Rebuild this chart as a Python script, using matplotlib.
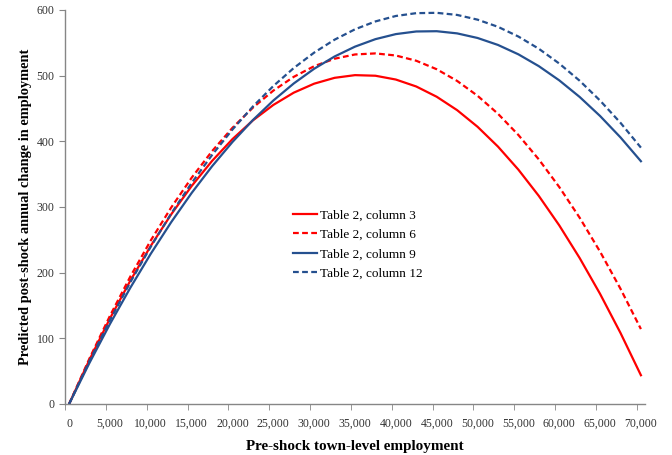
import numpy as np
import matplotlib
matplotlib.use("Agg")
import matplotlib.pyplot as plt

# Pre-shock town-level employment (read every 2,500)
employment = list(range(0, 70001, 2500))

# Predicted post-shock annual change in employment
col3 = [0, 67.5, 130.2, 187.9, 240.8, 288.8, 331.9, 370.1, 403.4, 431.9,
        455.4, 474.1, 487.8, 496.7, 500.8, 499.9, 494.1, 483.5, 467.9, 447.5,
        422.2, 392.0, 356.9, 316.9, 272.1, 222.3, 167.7, 108.2, 43.8]
col6 = [0, 69.5, 134.2, 194.1, 249.1, 299.2, 344.5, 385.0, 420.6, 451.3,
        477.2, 498.2, 514.4, 525.8, 532.3, 533.9, 530.7, 522.7, 509.8, 492.0,
        469.4, 442.0, 409.7, 372.5, 330.5, 283.7, 232.0, 175.5, 114.1]
col9 = [0, 62.7, 121.8, 177.1, 228.8, 276.9, 321.3, 362.0, 399.0, 432.4,
        462.1, 488.1, 510.5, 529.2, 544.2, 555.6, 563.3, 567.3, 567.7, 564.4,
        557.4, 546.8, 532.5, 514.5, 492.9, 467.6, 438.6, 406.0, 369.7]
col12 = [0, 65.7, 127.5, 185.5, 239.6, 290.0, 336.5, 379.2, 418.0, 453.0,
         484.2, 511.6, 535.1, 554.8, 570.6, 582.6, 590.9, 595.2, 595.7, 592.5,
         585.3, 574.4, 559.6, 541.0, 518.5, 492.3, 462.1, 428.2, 390.4]

series = [("Table 2, column 3", col3, "#FF0000", "-"),
          ("Table 2, column 6", col6, "#FF0000", "--"),
          ("Table 2, column 9", col9, "#25508F", "-"),
          ("Table 2, column 12", col12, "#25508F", "--")]

x_ticks = list(range(0, 70001, 5000))
y_ticks = list(range(0, 601, 100))

plt.rcParams["font.family"] = ["Liberation Serif", "DejaVu Serif"]

fig = plt.figure(figsize=(6.72, 4.55), dpi=100)
ax = fig.add_axes([65 / 672, 51 / 455, 580 / 672, 394 / 455])

for label, vals, color, ls in series:
    line, = ax.plot(employment, vals, color=color, linestyle=ls, lw=1.6,
                    label=label)
    if ls == "--":
        line.set_dashes((2.6, 1.5))

ax.set_xlim(-500, 70500)
ax.set_ylim(0, 600)
ax.set_xticks(x_ticks)
ax.set_xticklabels([f"{v:,}" for v in x_ticks])
ax.set_xticks(np.arange(-500, 70501, 5000), minor=True)
ax.set_yticks(y_ticks)

grey = "#868686"
for side in ["top", "right"]:
    ax.spines[side].set_visible(False)
for side in ["left", "bottom"]:
    ax.spines[side].set_color(grey)
    ax.spines[side].set_linewidth(1.0)

ax.tick_params(axis="x", which="major", length=0, pad=10, labelsize=8.5,
               colors="#333333")
ax.tick_params(axis="x", which="minor", length=4, color=grey, direction="out")
ax.tick_params(axis="y", length=4, color=grey, labelsize=8.5, labelcolor="#333333")

ax.set_xlabel("Pre-shock town-level employment", fontsize=10.9,
              fontweight="bold", labelpad=7)
ax.set_ylabel("Predicted post-shock annual change in employment", fontsize=10.4,
              fontweight="bold", labelpad=3)

ax.legend(loc="center left", bbox_to_anchor=(0.393, 0.405), frameon=False,
          fontsize=9.5, handlelength=1.8, handletextpad=0.25, labelspacing=0.55,
          borderpad=0, borderaxespad=0)

fig.savefig("out.png", dpi=100)
